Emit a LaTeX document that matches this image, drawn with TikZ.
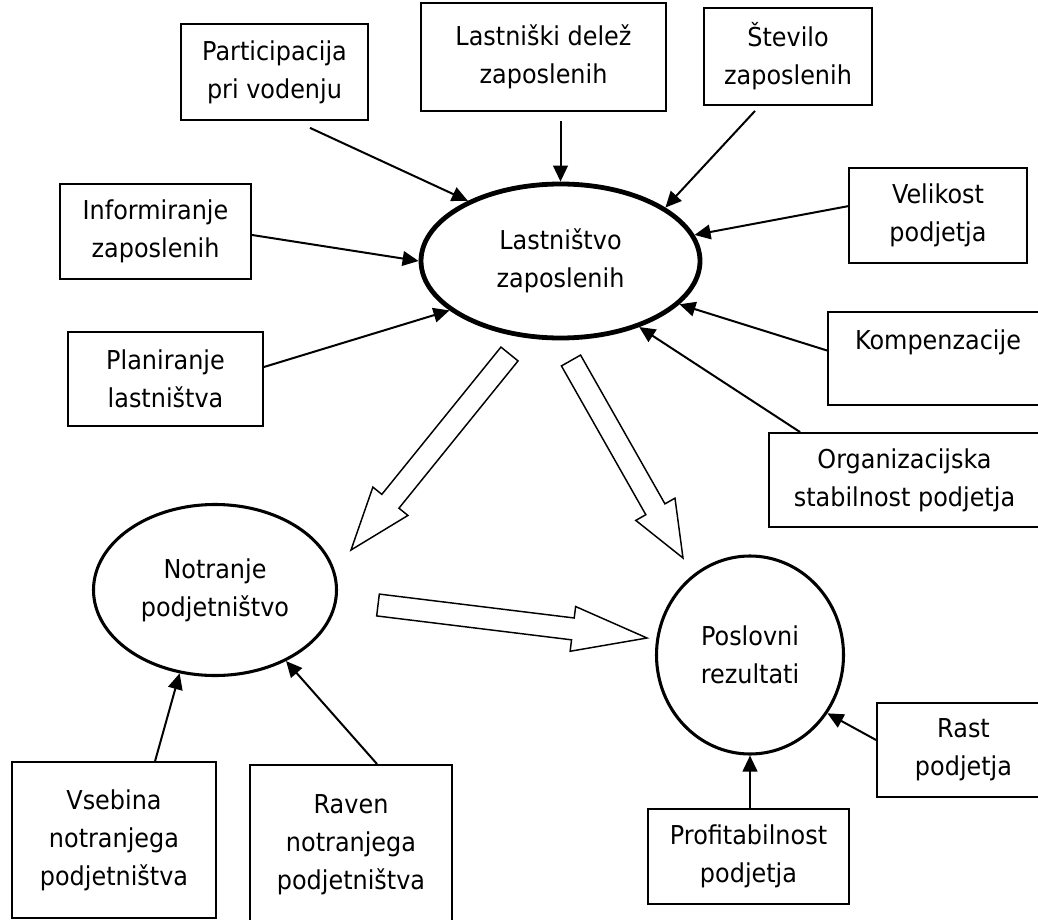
\documentclass[tikz,border=0pt]{standalone}
\usepackage{fontspec}
\setmainfont[FakeStretch=0.92]{DejaVu Sans}
\usetikzlibrary{arrows.meta,shapes.geometric,calc}

\tikzset{
  boxsize/.style 2 args={minimum width=#1*0.75pt, minimum height=#2*0.75pt},
  box/.style={draw, line width=1.4pt, align=center, inner sep=0pt, font=\fontsize{19.5}{28.5}\selectfont},
  blob/.style={draw, ellipse, line width=2.3pt, align=center, inner sep=0pt, font=\fontsize{19.5}{28.5}\selectfont},
  arr/.style={line width=1.5pt, -{Triangle[length=12pt,width=11pt]}},
  fat/.style={line width=1.1pt, line join=miter},
}

% hollow block arrow: tail, tip, head length
\newcommand{\fatarrow}[3]{%
  \draw[fat] let \p1=($(#2)-(#1)$), \n1={atan2(\y1,\x1)}, \n2={veclen(\x1,\y1)} in
    [shift={(#1)}, rotate=\n1] (0pt,-8.25pt) -- ({\n2*1pt-#3},-8.25pt) -- ({\n2*1pt-#3},-16.9pt)
    -- ({\n2*1pt},0pt) -- ({\n2*1pt-#3},16.9pt) -- ({\n2*1pt-#3},8.25pt) -- (0pt,8.25pt) -- cycle;}

\begin{document}
\begin{tikzpicture}[x=0.75pt, y=-0.75pt]
  \useasboundingbox (0,0) rectangle (1038,920);
  \clip (0,0) rectangle (1038,920);

  % Nodes
  \node[blob, line width=3.6pt, boxsize={279}{154}] (own) at (560.5,261) {Lastništvo\\zaposlenih}; % central ellipse
  \node[blob, boxsize={243}{171}] (intra) at (215,590) {Notranje\\podjetništvo};
  \node[blob, boxsize={187}{198}] (res) at (750,655) {Poslovni\\rezultati};

  \node[box, boxsize={187}{96}] (part) at (274.5,72) {Participacija\\pri vodenju};
  \node[box, boxsize={245}{108}] (delez) at (543.5,57) {Lastniški delež\\zaposlenih};
  \node[box, boxsize={168}{97}] (stevilo) at (788,56.5) {Število\\zaposlenih};
  \node[box, boxsize={191}{95}] (inform) at (155.5,231.5) {Informiranje\\zaposlenih};
  \node[box, boxsize={178}{95}] (velikost) at (938,215.5) {Velikost\\podjetja};
  \node[box, boxsize={195}{94}] (plan) at (165.5,379) {Planiranje\\lastništva};
  \node[box, boxsize={220}{93}] (komp) at (938,358.5) {Kompenzacije\\\mbox{}};
  \node[box, boxsize={271}{94}] (org) at (904.5,480) {Organizacijska\\stabilnost podjetja};
  \node[box, boxsize={173}{94}] (rast) at (963.5,750) {Rast\\podjetja};
  \node[box, boxsize={201}{95}] (prof) at (748.5,856.5) {Profitabilnost\\podjetja};
  \node[box, boxsize={204}{156}] (vsebina) at (114,840) {Vsebina\\notranjega\\podjetništva};
  \node[box, boxsize={202}{160}] (raven) at (351,845) {Raven\\notranjega\\podjetništva};

  % Edges
  \draw[arr] ([xshift=26.6pt,yshift=-5.2pt]part.south) -- (own.147);
  \draw[arr, shorten <=7pt] (own.north |- delez.south) -- (own.north);
  \draw[arr] ([xshift=-24.75pt,yshift=-3.75pt]stevilo.south) -- (own.27);
  \draw[arr] ([yshift=7pt]velikost.west) -- (own.11);
  \draw[arr] ([yshift=-2.6pt]inform.east) -- (own.west);
  \draw[arr] ([yshift=9pt]plan.east) -- (own.204);
  \draw[arr] ([yshift=6pt]komp.west) -- (own.340);
  \draw[arr] ([xshift=24pt]org.north west) -- (own.320);
  \draw[arr] ([xshift=108pt]vsebina.north west) -- (intra.247);
  \draw[arr] ([xshift=96pt]raven.north west) -- (intra.315);
  \draw[arr] (res.south |- prof.north) -- (res.south);
  \draw[arr] ([yshift=7.5pt]rast.west) -- (res.323);

  % Block arrows
  \coordinate (fat1s) at (509.5,354); \coordinate (fat1e) at (351,550);
  \coordinate (fat2s) at (571,360.5); \coordinate (fat2e) at (683,558);
  \coordinate (fat3s) at (378,605);   \coordinate (fat3e) at (647,638);
  \fatarrow{fat1s}{fat1e}{47pt}
  \fatarrow{fat2s}{fat2e}{42pt}
  \fatarrow{fat3s}{fat3e}{56pt}

\end{tikzpicture}
\end{document}
